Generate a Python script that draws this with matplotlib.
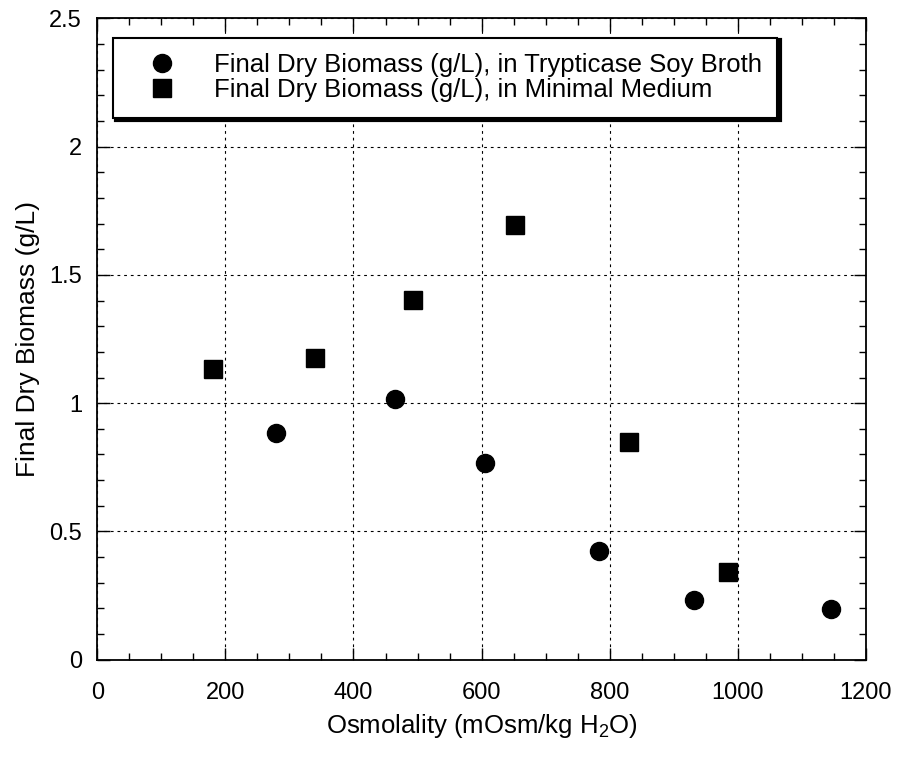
import matplotlib
matplotlib.use("Agg")
import matplotlib.pyplot as plt
from matplotlib.ticker import MultipleLocator

plt.rcParams['font.family'] = ['Liberation Sans', 'DejaVu Sans']
plt.rcParams['mathtext.fontset'] = 'custom'
plt.rcParams['mathtext.rm'] = 'Liberation Sans'

# Final dry biomass vs osmolality
tsb_osm = [279, 465, 605, 783, 931, 1145]
tsb_biomass = [0.885, 1.016, 0.766, 0.422, 0.234, 0.199]

mm_osm = [181, 340, 493, 652, 830, 984]
mm_biomass = [1.132, 1.177, 1.402, 1.693, 0.850, 0.344]

fig = plt.figure(figsize=(9.01, 7.61), dpi=100)
ax = fig.add_axes([0.108, 0.133, 0.853, 0.843])

ax.plot(tsb_osm, tsb_biomass, 'o', color='black', ms=13,
        label='Final Dry Biomass (g/L), in Trypticase Soy Broth')
ax.plot(mm_osm, mm_biomass, 's', color='black', ms=13,
        label='Final Dry Biomass (g/L), in Minimal Medium')

ax.set_xlim(0, 1200)
ax.set_ylim(0, 2.5)
ax.xaxis.set_major_locator(MultipleLocator(200))
ax.xaxis.set_minor_locator(MultipleLocator(50))
ax.yaxis.set_major_locator(MultipleLocator(0.5))
ax.yaxis.set_minor_locator(MultipleLocator(0.1))
ax.set_yticks([0, 0.5, 1, 1.5, 2, 2.5])
ax.set_yticklabels(['0', '0.5', '1', '1.5', '2', '2.5'])

ax.tick_params(which='both', direction='in', top=True, right=True,
               colors='black', labelsize=17)
ax.tick_params(which='major', length=9, width=1)
ax.tick_params(which='minor', length=5, width=1)
ax.tick_params(axis='x', which='major', pad=16)
ax.tick_params(axis='y', which='major', pad=11)

ax.grid(True, which='major', color='black', linestyle=(0, (2.5, 3.5)), linewidth=0.8)
for sp in ax.spines.values():
    sp.set_linewidth(1.3)

ax.set_xlabel(r'Osmolality (mOsm/kg H$_\mathregular{2}$O)', fontsize=18.5, labelpad=6)
ax.set_ylabel('Final Dry Biomass (g/L)', fontsize=19, labelpad=7)

leg = ax.legend(loc='upper left', bbox_to_anchor=(0.021, 0.97), borderaxespad=0,
                fontsize=18.5, frameon=True, fancybox=False, numpoints=1,
                handlelength=2.6, handletextpad=0.7, labelspacing=0.05,
                borderpad=0.6,
                shadow={'color': 'black', 'alpha': 1, 'linewidth': 3})
leg.get_frame().set_edgecolor('black')
leg.get_frame().set_linewidth(1.5)
leg.get_frame().set_alpha(1)

fig.savefig('out.png', dpi=100)
